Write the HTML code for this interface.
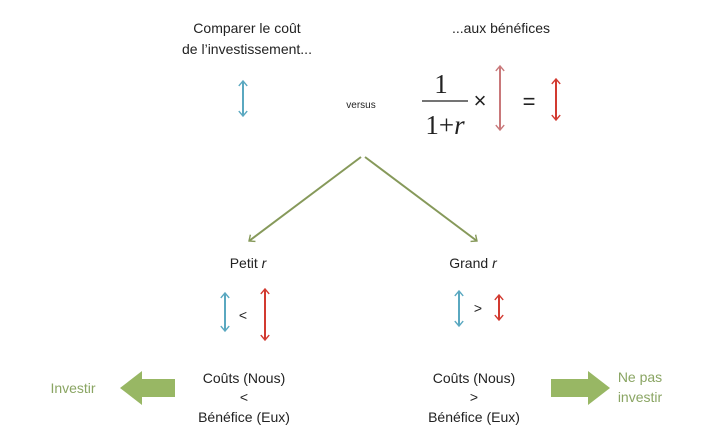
<!DOCTYPE html>
<html><head><meta charset="utf-8"><style>
html,body{margin:0;padding:0;background:#fff;}
svg{display:block;}
text{font-family:"Liberation Sans",sans-serif;font-size:14px;fill:#222;}
</style></head><body>
<svg width="710" height="443" viewBox="0 0 710 443" xmlns="http://www.w3.org/2000/svg">
<defs>
<marker id="ob" viewBox="0 0 10 14" refX="8" refY="7" markerWidth="7" markerHeight="12" orient="auto-start-reverse" markerUnits="userSpaceOnUse"><path d="M1,1 L8,7 L1,13" fill="none" stroke="context-stroke" stroke-width="2"/></marker>
</defs>
<g text-anchor="middle">
<text x="247" y="33">Comparer le coût</text>
<text x="247" y="54">de l’investissement...</text>
<text x="501" y="33">...aux bénéfices</text>
<text x="361" y="108" style="font-size:10px">versus</text>
<text x="248" y="268">Petit <tspan font-style="italic">r</tspan></text>
<text x="473" y="268">Grand <tspan font-style="italic">r</tspan></text>
<text x="243" y="320">&lt;</text>
<text x="478" y="313">&gt;</text>
<text x="244" y="383">Coûts (Nous)</text>
<text x="244" y="402">&lt;</text>
<text x="244" y="422">Bénéfice (Eux)</text>
<text x="474" y="383">Coûts (Nous)</text>
<text x="474" y="402">&gt;</text>
<text x="474" y="422">Bénéfice (Eux)</text>
<text x="73" y="393" style="fill:#8aa563">Investir</text>
<text x="640" y="382" style="fill:#8aa563">Ne pas</text>
<text x="640" y="402" style="fill:#8aa563">investir</text>
<text x="441" y="93" style="font-family:'Liberation Serif',serif;font-size:27px">1</text>
<text x="445" y="134" style="font-family:'Liberation Serif',serif;font-size:27px">1+<tspan font-style="italic">r</tspan></text>
<text x="480" y="108" style="font-size:22px">×</text>
<text x="529" y="109" style="font-size:22px">=</text>
</g>
<line x1="422" y1="101" x2="468" y2="101" stroke="#222" stroke-width="1.3"/>
<g stroke-width="2" fill="none">
<line x1="243" y1="81" x2="243" y2="116" stroke="#5aa8c0" marker-start="url(#ob)" marker-end="url(#ob)"/>
<line x1="500" y1="66" x2="500" y2="130" stroke="#c9787a" marker-start="url(#ob)" marker-end="url(#ob)"/>
<line x1="556" y1="79" x2="556" y2="120" stroke="#d23a30" marker-start="url(#ob)" marker-end="url(#ob)"/>
<line x1="225" y1="293" x2="225" y2="331" stroke="#5aa8c0" marker-start="url(#ob)" marker-end="url(#ob)"/>
<line x1="265" y1="289" x2="265" y2="340" stroke="#d23a30" marker-start="url(#ob)" marker-end="url(#ob)"/>
<line x1="459" y1="291" x2="459" y2="326" stroke="#5aa8c0" marker-start="url(#ob)" marker-end="url(#ob)"/>
<line x1="499" y1="295" x2="499" y2="320" stroke="#d23a30" marker-start="url(#ob)" marker-end="url(#ob)"/>
<line x1="361" y1="157" x2="249" y2="241" stroke="#86995a" marker-end="url(#ob)"/>
<line x1="365" y1="157" x2="477" y2="241" stroke="#86995a" marker-end="url(#ob)"/>
</g>
<polygon points="120,388 142,371 142,379 175,379 175,397 142,397 142,405" fill="#98b764"/>
<polygon points="610,388 588,371 588,379 551,379 551,397 588,397 588,405" fill="#98b764"/>
</svg>
</body></html>
